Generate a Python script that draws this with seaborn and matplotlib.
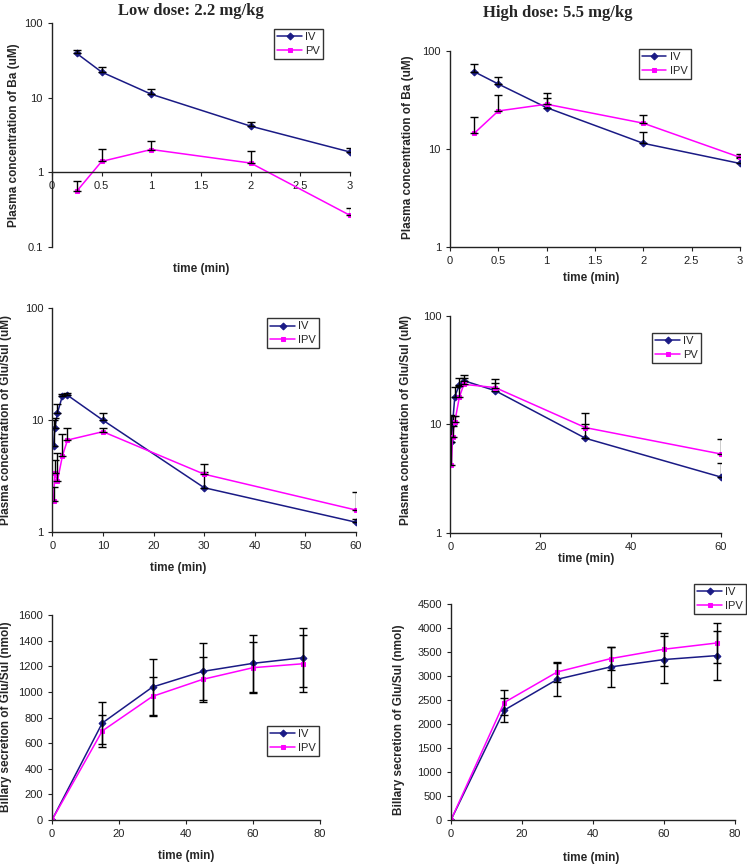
import numpy as np
import seaborn as sns
import matplotlib.pyplot as plt
from matplotlib.ticker import FuncFormatter, NullLocator

# Plasma Ba, low dose (min, uM)
ba_t = [0.25, 0.5, 1, 2, 3]
ba_low_iv = [39, 22, 11.1, 4.15, 1.87]
ba_low_iv_err = [5, 3.4, 1.8, 0.55, 0.23]
ba_low_ipv = [0.56, 1.4, 2.02, 1.33, 0.265]
ba_low_ipv_err = [0.2, 0.64, 0.64, 0.6, 0.065]

# Plasma Ba, high dose
ba_high_iv = [61.5, 46, 26.4, 11.4, 7.1]
ba_high_iv_err = [12.3, 8, 6.6, 3.6, 0.9]
ba_high_ipv = [14.4, 24.4, 28.6, 18.3, 8.2]
ba_high_ipv_err = [6.9, 11.2, 9, 4.1, 0.7]

# Plasma Glu/Sul (min, uM)
gs_t = [0.25, 0.5, 1, 2, 3, 10, 30, 60]
gs_low_iv = [5.9, 8.5, 11.5, 16.5, 16.7, 10.0, 2.5, 1.23]
gs_low_iv_err = [4.1, 2.0, 2.3, 0.7, 0.6, 1.6, 0.97, 0.08]
gs_low_ipv = [1.9, 3.4, 2.85, 4.8, 6.65, 7.9, 3.3, 1.58]
gs_low_ipv_err = [0.62, 1.0, 2.2, 2.7, 1.95, 0.6, 0.76, 0.69]

gs_high_iv = [6.9, 10, 18.1, 23.2, 25.4, 20.5, 7.45, 3.27]
gs_high_iv_err = [5.3, 2, 4.2, 3.5, 3.3, 5.7, 2.55, 1.1]
gs_high_ipv = [4.2, 7.7, 10.6, 17.8, 23.5, 21.9, 9.35, 5.34]
gs_high_ipv_err = [3.5, 2, 1.5, 5, 3.5, 2.5, 3.35, 1.96]

# Biliary secretion of Glu/Sul (min, nmol)
bil_t = [0, 15, 30, 45, 60, 75]
bil_low_iv = [0, 757, 1038, 1160, 1223, 1267]
bil_low_iv_err = [0, 165, 222, 221, 223, 232]
bil_low_ipv = [0, 695, 965, 1098, 1189, 1220]
bil_low_ipv_err = [0, 124, 152, 175, 199, 221]

bil_high_iv = [0, 2288, 2933, 3190, 3343, 3426]
bil_high_iv_err = [0, 256, 346, 416, 486, 513]
bil_high_ipv = [0, 2448, 3086, 3363, 3558, 3689]
bil_high_ipv_err = [0, 257, 201, 243, 346, 416]

IV_COLOR = '#1a1a85'
IPV_COLOR = '#ff00ff'

sns.set_style('ticks')
plt.rcParams['font.family'] = ['Liberation Sans', 'DejaVu Sans']

fig = plt.figure(figsize=(7.47, 8.66), dpi=100)


def draw_series(ax, t, v, err, color, marker, label, both_sides):
    sns.lineplot(x=t, y=v, ax=ax, color=color, marker=marker, markersize=3.5,
                 markeredgecolor=color, linewidth=1.1, label=label)
    t = np.asarray(t)[1:] if both_sides else np.asarray(t)
    v = np.asarray(v)[1:] if both_sides else np.asarray(v)
    err = np.asarray(err)[1:] if both_sides else np.asarray(err)
    lower = err if both_sides else np.zeros_like(err)
    ax.errorbar(t, v, yerr=[lower, err], fmt='none', ecolor='black',
                elinewidth=1, capsize=3, capthick=1)


def setup_panel(rect, t, iv, iv_err, ipv, ipv_err, ipv_label, ylabel,
                xlim, xticks, log, ylim, yticks, xlab_pos, ylab_pos, leg_pos,
                both_sides=False):
    ax = fig.add_axes(rect)
    draw_series(ax, t, iv, iv_err, IV_COLOR, 'D', 'IV', both_sides)
    draw_series(ax, t, ipv, ipv_err, IPV_COLOR, 's', ipv_label, both_sides)
    if log:
        ax.set_yscale('log')
        ax.yaxis.set_minor_locator(NullLocator())
    ax.set_xlim(xlim)
    ax.set_ylim(ylim)
    ax.set_xticks(xticks)
    ax.set_yticks(yticks)
    fmt = FuncFormatter(lambda val, _: f'{val:g}')
    ax.xaxis.set_major_formatter(fmt)
    ax.yaxis.set_major_formatter(fmt)
    ax.tick_params(labelsize=8, length=3, width=0.8, colors='#222222')
    for s in ['top', 'right']:
        ax.spines[s].set_visible(False)
    for s in ['left', 'bottom']:
        ax.spines[s].set_color('#222222')
        ax.spines[s].set_linewidth(1)
    ax.set_xlabel('time (min)', fontsize=8.5, fontweight='bold')
    ax.set_ylabel(ylabel, fontsize=8.5, fontweight='bold')
    ax.xaxis.set_label_coords(*xlab_pos)
    ax.yaxis.set_label_coords(*ylab_pos)
    leg = ax.legend(loc='upper left', bbox_to_anchor=leg_pos, fontsize=8,
                    frameon=True, fancybox=False, edgecolor='black',
                    borderaxespad=0, borderpad=0.3, labelspacing=0.3,
                    handlelength=2.2, handletextpad=0.3)
    leg.get_frame().set_linewidth(1)
    return ax


ba_ylabel = 'Plasma concentration of Ba (uM)'
gs_ylabel = 'Plasma concentration of Glu/Sul (uM)'
bil_ylabel = 'Billary secretion of Glu/Sul (nmol)'

ax1 = setup_panel([0.0696, 0.7148, 0.399, 0.2587], ba_t, ba_low_iv, ba_low_iv_err,
                  ba_low_ipv, ba_low_ipv_err, 'PV', ba_ylabel,
                  (0, 3), np.arange(0, 3.01, 0.5), True, (0.1, 100), [0.1, 1, 10, 100],
                  (0.502, -0.071), (-0.107, 0.5), (0.745, 0.973))
ax1.spines['bottom'].set_position(('data', 1))

setup_panel([0.6024, 0.7151, 0.388, 0.226], ba_t, ba_high_iv, ba_high_iv_err,
            ba_high_ipv, ba_high_ipv_err, 'IPV', ba_ylabel,
            (0, 3), np.arange(0, 3.01, 0.5), True, (1, 100), [1, 10, 100],
            (0.487, -0.129), (-0.124, 0.511), (0.651, 1.01))

setup_panel([0.070, 0.3853, 0.4066, 0.259], gs_t, gs_low_iv, gs_low_iv_err,
            gs_low_ipv, gs_low_ipv_err, 'IPV', gs_ylabel,
            (0, 60), np.arange(0, 61, 10), True, (1, 100), [1, 10, 100],
            (0.415, -0.131), (-0.132, 0.5), (0.707, 0.955))

setup_panel([0.6028, 0.3849, 0.362, 0.2499], gs_t, gs_high_iv, gs_high_iv_err,
            gs_high_ipv, gs_high_ipv_err, 'PV', gs_ylabel,
            (0, 60), np.arange(0, 61, 20), True, (1, 100), [1, 10, 100],
            (0.503, -0.095), (-0.14, 0.52), (0.746, 0.923))

setup_panel([0.0696, 0.0531, 0.3588, 0.2367], bil_t, bil_low_iv, bil_low_iv_err,
            bil_low_ipv, bil_low_ipv_err, 'IPV', bil_ylabel,
            (0, 80), np.arange(0, 81, 20), False, (0, 1600), np.arange(0, 1601, 200),
            (0.5, -0.146), (-0.148, 0.504), (0.802, 0.459), both_sides=True)

setup_panel([0.6037, 0.0531, 0.380, 0.2494], bil_t, bil_high_iv, bil_high_iv_err,
            bil_high_ipv, bil_high_ipv_err, 'IPV', bil_ylabel,
            (0, 80), np.arange(0, 81, 20), False, (0, 4500), np.arange(0, 4501, 500),
            (0.494, -0.147), (-0.163, 0.463), (0.856, 1.093), both_sides=True)

fig.text(0.255, 0.987, 'Low dose: 2.2 mg/kg', ha='center', va='center',
         fontsize=12, fontweight='bold', family='Liberation Serif')
fig.text(0.746, 0.9855, 'High dose: 5.5 mg/kg', ha='center', va='center',
         fontsize=12, fontweight='bold', family='Liberation Serif')

fig.savefig('out.png', dpi=100)
